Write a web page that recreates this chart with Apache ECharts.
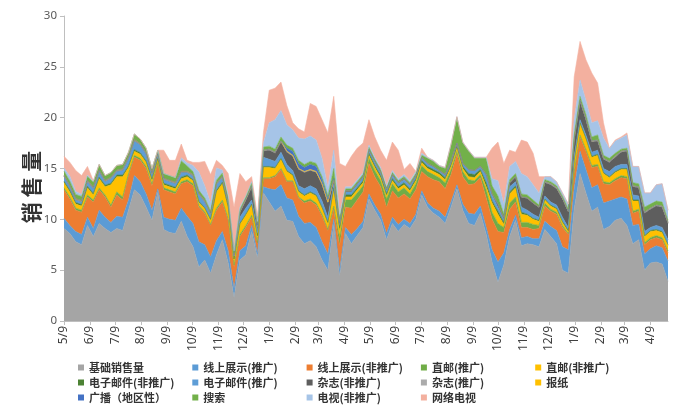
<!DOCTYPE html>
<html><head><meta charset="utf-8">
<script src="https://cdn.jsdelivr.net/npm/echarts/dist/echarts.min.js"></script>
<style>html,body{margin:0;padding:0;background:#fff}#c{width:685px;height:418px}</style>
</head><body><div id="c"></div>
<script>
// tick labels (9th of each month) and the weekly date grid
const monthLabels = ['5/9','6/9','7/9','8/9','9/9','10/9','11/9','12/9','1/9','2/9','3/9','4/9',
                     '5/9','6/9','7/9','8/9','9/9','10/9','11/9','12/9','1/9','2/9','3/9','4/9'];
const startYear = 2013, startMonth = 4, startDay = 9;
const weeks = 104;

const seriesNames = ['基础销售量','线上展示(推广)','线上展示(非推广)','直邮(推广)','直邮(非推广)',
  '电子邮件(非推广)','电子邮件(推广)','杂志(非推广)','杂志(推广)','报纸',
  '广播（地区性）','搜索','电视(非推广)','网络电视'];

const baseSales = [
9.1,8.6,7.8,7.5,9.4,8.3,9.6,9.1,8.7,9.1,
8.9,10.9,12.9,12.4,11.2,9.9,12.7,9.0,8.7,8.6,
9.8,8.3,7.3,5.3,6.0,4.7,6.5,8.0,5.7,2.3,
6.0,6.5,8.8,6.2,12.6,11.7,10.8,11.3,9.9,9.8,
8.3,7.6,7.9,7.3,6.0,5.0,9.5,4.4,8.6,7.6,
8.4,9.2,12.0,10.9,9.9,8.0,9.6,8.8,9.5,9.1,
10.0,12.4,11.2,10.6,10.2,9.6,11.2,13.0,10.9,9.6,
9.4,10.6,8.5,5.8,3.8,5.5,8.3,9.9,7.4,7.6,
7.5,7.3,9.0,8.3,7.6,5.0,4.7,11.0,14.5,12.6,
10.8,11.2,9.0,9.3,9.9,10.1,9.4,7.6,8.0,5.0,
5.7,5.8,5.6,3.9];
const onlinePromo = [
1.0,0.8,1.0,1.0,0.8,0.8,1.3,1.1,1.0,1.2,
1.3,1.0,1.4,1.3,1.3,1.0,0.3,1.2,1.3,1.3,
1.3,2.0,2.3,2.5,1.5,1.6,1.4,0.8,1.2,0.9,
0.9,0.9,0.6,0.4,0.6,1.3,2.1,2.1,2.2,2.1,
2.0,2.0,1.8,1.9,1.8,1.6,0.5,0.6,0.6,0.9,
0.7,0.6,0.5,0.5,0.6,0.6,0.6,0.7,0.5,0.5,
0.5,0.4,0.4,0.5,0.6,0.6,0.5,0.4,0.6,1.0,
1.1,0.7,0.7,1.2,2.0,1.2,0.7,0.5,0.8,0.7,
0.6,0.8,0.8,1.0,1.3,2.3,2.3,2.0,2.2,2.3,
2.3,2.2,2.6,2.5,2.1,2.1,2.6,1.8,1.5,1.6,
1.4,1.6,1.6,2.0];
const onlineNon = [
2.8,2.6,2.1,2.2,2.0,2.6,2.0,2.0,1.5,2.1,
1.7,2.4,1.8,2.1,2.5,2.4,2.5,2.7,2.7,2.6,
2.4,3.4,3.7,3.4,3.1,3.1,3.0,2.9,3.0,2.1,
1.4,1.8,0.8,1.0,0.8,1.0,1.3,1.5,1.6,1.8,
1.8,2.0,2.1,2.2,2.5,2.3,1.0,2.4,2.0,2.6,
2.8,2.9,3.0,2.8,2.7,2.6,2.6,2.6,2.5,2.4,
2.4,1.9,2.6,2.8,2.9,2.8,2.7,3.0,2.7,2.8,
3.0,2.8,2.9,3.0,3.0,2.0,2.0,1.3,1.0,0.9,
0.9,1.0,1.5,1.5,1.6,1.9,1.5,1.6,1.4,1.8,
2.0,1.8,1.9,1.6,1.8,1.9,2.0,1.2,1.3,0.9,
0.9,0.8,0.8,0.8];
const directPromo = [
0.2,0.2,0.2,0.2,0.2,0.2,0.2,0.2,0.2,0.3,
0.3,0.2,0.2,0.2,0.2,0.2,0.1,0.2,0.2,0.2,
0.2,0.2,0.2,0.15,0.15,0.1,0.2,0.2,0.2,0.2,
0.2,0.2,0.2,0.1,0.1,0.1,0.1,0.1,0.1,0.1,
0.1,0.2,0.2,0.2,0.2,0.1,0.3,0.8,0.7,0.8,
0.7,0.6,0.5,0.6,0.6,0.8,0.7,0.6,0.6,0.5,
0.6,0.6,0.5,0.5,0.4,0.6,0.5,0.3,0.5,0.5,
0.3,0.3,0.8,0.7,0.8,0.5,0.6,0.5,0.5,0.5,
0.5,0.3,0.3,0.2,0.2,0.2,0.1,0.1,0.2,0.2,
0.2,0.2,0.2,0.2,0.2,0.2,0.2,0.2,0.2,0.2,
0.2,0.2,0.2,0.2];
const directNon = [
0.5,0.5,0.4,0.4,0.7,0.5,0.9,0.8,2.0,1.5,
2.0,0.6,0.4,0.4,0.4,0.3,0.3,0.3,0.3,0.3,
0.3,0.3,0.3,0.3,0.3,0.4,1.6,1.6,1.0,0.5,
1.0,1.0,1.0,0.6,1.0,1.0,0.7,0.9,0.9,0.5,
0.5,0.5,0.6,0.7,0.6,0.6,1.5,0.6,0.3,0.3,
0.3,0.3,0.3,0.3,0.3,0.3,0.3,0.3,0.3,0.3,
0.3,0.3,0.3,0.3,0.3,0.3,0.3,0.3,0.3,0.3,
0.3,0.3,0.3,0.9,0.9,0.3,0.9,0.9,0.8,0.7,
0.5,0.4,0.3,0.3,0.3,0.3,0.2,1.0,1.1,1.0,
0.8,0.9,0.8,0.5,0.6,0.6,0.7,1.0,0.8,0.6,
0.6,0.5,0.5,0.5];
const emailNon = [
0.15,0.15,0.15,0.15,0.15,0.15,0.15,0.15,0.15,0.15,
0.15,0.15,0.15,0.15,0.15,0.15,0.1,0.15,0.15,0.15,
0.15,0.15,0.1,0.1,0.1,0.1,0.15,0.15,0.15,0.1,
0.1,0.1,0.1,0.1,0.1,0.1,0.1,0.1,0.1,0.1,
0.1,0.1,0.1,0.1,0.1,0.1,0.3,0.4,0.2,0.2,
0.2,0.2,0.2,0.2,0.2,0.2,0.2,0.2,0.2,0.2,
0.2,0.2,0.2,0.2,0.2,0.2,0.2,0.2,0.2,0.3,
0.3,0.2,0.4,0.2,0.3,0.2,0.2,0.2,0.2,0.1,
0.1,0.1,0.1,0.1,0.1,0.1,0.1,0.1,0.1,0.1,
0.1,0.1,0.1,0.1,0.1,0.1,0.1,0.1,0.1,0.1,
0.1,0.1,0.1,0.1];
const emailPromo = [
0.5,0.4,0.3,0.3,0.5,0.5,0.6,0.4,0.5,0.4,
0.5,0.8,0.9,0.8,0.7,0.5,0.4,0.4,0.4,0.4,
0.5,0.3,0.4,0.7,0.6,0.5,0.6,0.5,0.5,0.3,
0.6,0.6,0.4,0.3,0.9,0.7,0.6,0.6,0.6,0.4,
0.5,0.6,0.6,0.6,0.6,0.5,0.4,0.3,0.3,0.3,
0.3,0.3,0.3,0.3,0.3,0.3,0.3,0.3,0.3,0.3,
0.3,0.3,0.3,0.3,0.2,0.3,0.3,0.3,0.3,0.4,
0.4,0.3,0.8,0.6,0.4,0.3,0.5,0.4,0.5,0.4,
0.4,0.3,0.3,0.3,0.3,0.4,0.3,0.4,0.3,0.3,
0.4,0.4,0.4,0.5,0.5,0.4,0.4,0.5,0.4,0.4,
0.3,0.4,0.4,0.5];
const magazineNon = [
0,0,0,0,0,0,0,0,0,0,
0,0,0,0,0,0,0,0,0,0,
0,0,0,0,0,0,0,0,0,0,
0.5,0.8,1.3,0.6,0.6,0.9,0.8,1.0,1.2,1.4,
1.6,1.6,1.5,1.6,1.6,1.4,0.3,0.1,0.1,0.1,
0.1,0.1,0.1,0.1,0.1,0.1,0.1,0.1,0.1,0.1,
0,0,0,0,0,0,0,0,0,0,
0,0,0,0.1,0.3,0.1,0.4,0.5,1.0,1.2,
1.1,1.0,1.3,1.7,1.6,1.8,1.5,1.6,1.8,1.5,
1.0,0.9,0.9,0.9,0.9,1.2,1.3,0.8,0.8,1.8,
1.8,1.9,2.0,1.6];
const magazinePromo = [
0,0,0,0,0,0,0,0,0,0,
0,0,0,0,0,0,0,0,0,0,
0,0,0,0,0,0,0,0,0,0,
0,0,0,0,0.1,0.1,0.1,0.1,0.1,0.1,
0.1,0.1,0.1,0.1,0.1,0.1,0.1,0,0,0,
0,0,0,0,0,0,0,0,0,0,
0,0,0,0,0,0,0,0,0,0,
0,0,0,0,0,0,0,0,0,0,
0,0,0.1,0.1,0.1,0.1,0.1,0.1,0.1,0.1,
0.1,0.1,0.1,0.1,0.1,0.1,0.1,0.1,0.1,0.1,
0.1,0.1,0.1,0.1];
const newspaper = [
0.1,0.1,0.1,0.1,0.1,0.1,0.1,0.1,0.1,0.1,
0.1,0.1,0.1,0.1,0.1,0.1,0.1,0.1,0.1,0.1,
0.1,0.1,0.1,0.1,0.1,0.1,0.1,0.1,0.1,0.1,
0.1,0.1,0.1,0.1,0,0,0,0,0,0,
0,0,0,0,0,0,0,0,0,0,
0,0,0,0,0,0,0,0,0,0,
0,0,0,0,0,0,0,0,0,0,
0,0,0,0,0,0,0,0,0,0,
0,0,0,0,0,0,0,0,0,0,
0,0,0,0,0,0,0,0,0,0,
0,0,0,0];
const radio = [
0,0,0,0,0,0,0,0,0,0,
0,0,0,0,0,0,0,0,0,0,
0,0,0,0,0,0,0,0,0,0,
0,0,0,0,0,0,0,0,0.3,0.4,
0.5,0.4,0.5,0.5,0.4,0.3,0.1,0,0,0,
0,0,0,0,0,0,0,0,0,0,
0,0,0,0,0,0,0,0,0,0,
0,0,0,0,0,0,0,0,0,0,
0,0,0,0,0,0,0,0,0,0,
0,0,0,0,0,0,0,0,0,0,
0,0,0,0];
const search = [
0.4,0.4,0.4,0.4,0.4,0.5,0.55,0.45,0.45,0.45,
0.45,0.45,0.55,0.45,0.45,0.45,0.3,0.45,0.45,0.45,
1.0,0.5,0.3,0.3,0.25,0.2,0.3,0.3,0.25,0.2,
0.2,0.2,0.3,0.3,0.3,0.3,0.3,0.4,0.3,0.3,
0.3,0.3,0.3,0.3,0.3,0.3,1.0,0.5,0.2,0.2,
0.2,0.2,0.2,0.2,0.2,0.2,0.2,0.2,0.2,0.2,
0.2,0.2,0.5,0.5,0.4,0.6,1.6,2.5,2.0,1.8,
1.2,0.8,1.6,0.8,0.8,0.4,0.3,0.3,0.3,0.3,
0.3,0.2,0.2,0.2,0.2,0.2,0.2,0.4,0.4,0.4,
0.4,0.5,0.3,0.3,0.3,0.2,0.2,0.3,0.3,0.5,
0.4,0.4,0.4,0.2];
const tvNon = [
0.3,0.5,0.3,0.2,0.1,0.1,0,0,0,0,
0,0,0,0,0,0,0,0,0,0,
0.3,0.3,0.6,1.8,1.2,0.8,1.2,0.3,0.3,0.2,
0.2,0.1,0.1,0.1,0.4,2.3,2.9,2.6,2.0,1.8,
2.2,2.5,2.5,2.3,1.8,0.8,1.8,0.4,0.2,0.2,
0.2,0.2,0.2,0.2,0.2,0.2,0.2,0.2,0.2,0.2,
0.2,0.2,0.1,0.1,0.1,0.1,0.1,0.1,0.1,0.1,
0.1,0.1,0.1,0.7,1.5,1.0,1.3,1.2,2.0,1.8,
1.5,1.2,0.3,0.5,0.4,0.3,0.5,1.5,1.6,1.4,
1.4,1.4,1.7,1.0,1.2,1.1,1.3,1.6,1.7,1.4,
1.1,1.6,1.8,1.0];
const internetTv = [
1.15,1.35,2.05,1.85,0.85,0.05,0,0,0,0,
0,0,0,0,0,0,0,2.3,1.5,1.7,
1.35,0.25,0.3,0.95,2.4,2.8,0.75,0.45,2.1,4.3,
3.3,1.4,0.5,0.5,1.0,3.2,3.1,2.8,1.9,0.7,
0.9,0.7,3.2,3.3,3.8,5.4,5.3,5.0,2.0,3.0,
3.1,2.9,2.5,2.0,1.7,2.5,2.8,2.8,0.5,1.7,
0,0.5,0,0,0,0,0,0,0,0,
0,0,0,3.0,3.8,4.0,1.6,0.9,3.3,3.4,
3.1,1.6,0,0,0,0,0,4.2,3.8,4.0,
4.9,3.7,1.5,0,0.1,0.1,0.2,0,0,0,
0,0,0,0];

const seriesValues = [baseSales, onlinePromo, onlineNon, directPromo, directNon, emailNon, emailPromo,
  magazineNon, magazinePromo, newspaper, radio, search, tvNon, internetTv];
const seriesColors = ['#A5A5A5','#5B9BD5','#ED7D31','#70AD47','#FFC000','#4C8234','#5E9DD6',
  '#5E5E5E','#ABABAB','#FFC000','#4472C4','#72B04A','#A6C4E7','#F3B09F'];
const legendColumns = [
  ['基础销售量','电子邮件(非推广)','广播（地区性）'],
  ['线上展示(推广)','电子邮件(推广)','搜索'],
  ['线上展示(非推广)','杂志(非推广)','电视(非推广)'],
  ['直邮(推广)','杂志(推广)','网络电视'],
  ['直邮(非推广)','报纸']
];

const DAY = 86400000;
const t0 = Date.UTC(startYear, startMonth, startDay);
const monthDays = monthLabels.map((_, m) => Math.round((Date.UTC(startYear, startMonth + m, startDay) - t0) / DAY));
const labelOf = {};
monthDays.forEach((d, m) => { labelOf[d] = monthLabels[m]; });
const lastDay = (weeks - 1) * 7;

const chart = echarts.init(document.getElementById('c'), null, {renderer: 'canvas'});
const numFont = 'Noto Sans';
const cjkFont = '"Noto Sans CJK SC"';

chart.setOption({
  animation: false,
  backgroundColor: '#fff',
  grid: {left: 64, right: 17, top: 16, bottom: 97, containLabel: false},
  xAxis: {
    type: 'value', min: 0, max: lastDay,
    splitLine: {show: false},
    axisLine: {lineStyle: {color: '#BFBFBF', width: 1}},
    axisTick: {show: true, customValues: monthDays, length: 4, lineStyle: {color: '#BFBFBF'}},
    axisLabel: {customValues: monthDays, rotate: 90, margin: 5, fontSize: 12, color: '#404040',
      fontFamily: numFont, formatter: v => labelOf[Math.round(v)] || ''}
  },
  yAxis: {
    type: 'value', min: 0, max: 30, interval: 5,
    splitLine: {show: false},
    axisLine: {show: true, lineStyle: {color: '#BFBFBF', width: 1}},
    axisTick: {show: true, length: 4, lineStyle: {color: '#BFBFBF'}},
    axisLabel: {margin: 7, fontSize: 11.5, color: '#595959', fontFamily: numFont}
  },
  legend: legendColumns.map((col, k) => ({
    data: col, orient: 'vertical', left: 78 + k * 114.3, top: 361,
    padding: 0, itemGap: 2, itemWidth: 6, itemHeight: 6, icon: 'rect',
    selectedMode: false,
    textStyle: {fontSize: 11, fontWeight: 'bold', color: '#333', fontFamily: cjkFont, lineHeight: 13}
  })),
  graphic: [{
    type: 'text', x: 31, y: 187, rotation: Math.PI / 2,
    style: {text: '销 售 量', font: 'bold 21px "Noto Sans CJK SC"', fill: '#333',
      textAlign: 'center', textVerticalAlign: 'middle'}
  }],
  // value first, date second, so that the stack sums the values
  series: seriesNames.map((name, k) => ({
    name, type: 'line', stack: 'total',
    data: seriesValues[k].map((v, i) => [v, i * 7]),
    encode: {x: 1, y: 0},
    symbol: 'none', showSymbol: false, smooth: false,
    lineStyle: {width: 0.6, color: seriesColors[k]},
    itemStyle: {color: seriesColors[k]},
    areaStyle: {color: seriesColors[k], opacity: 1},
    emphasis: {disabled: true}
  }))
});
</script>
</body></html>
